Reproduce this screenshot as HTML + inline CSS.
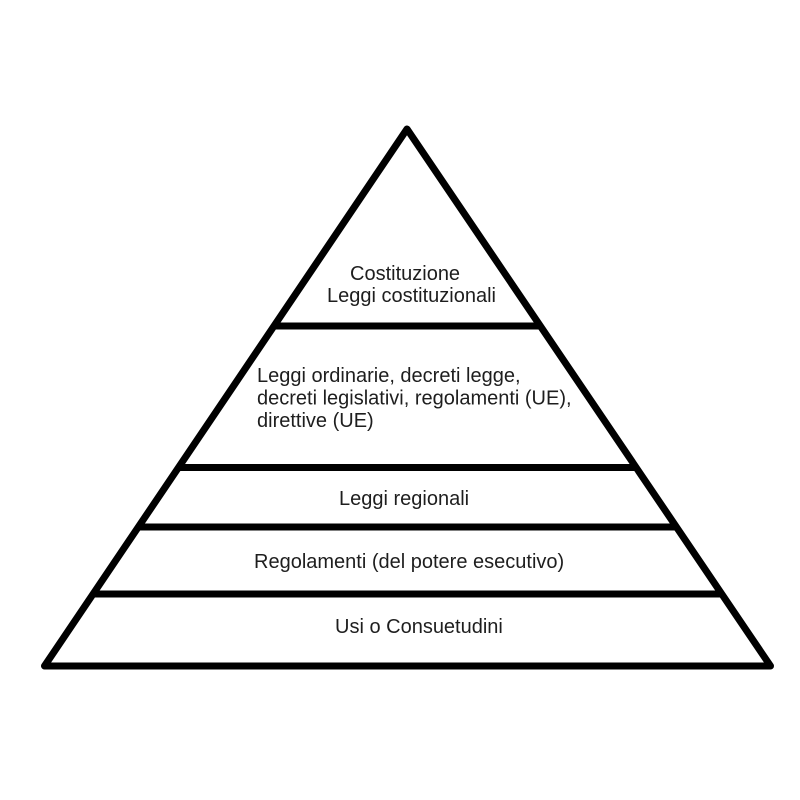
<!DOCTYPE html>
<html>
<head>
<meta charset="utf-8">
<style>
  html, body { margin: 0; padding: 0; background: #ffffff; }
  svg { display: block; }
  text { font-family: "Liberation Sans", Arial, sans-serif; font-size: 20px; fill: #1e1e1e; }
</style>
</head>
<body>
<svg width="800" height="800" viewBox="0 0 800 800" xmlns="http://www.w3.org/2000/svg">
  <rect x="0" y="0" width="800" height="800" fill="#ffffff"/>
  <!-- horizontal dividers -->
  <g stroke="#000" stroke-width="7" stroke-linecap="butt">
    <line x1="274" y1="326" x2="540" y2="326"/>
    <line x1="178.5" y1="467.5" x2="635.5" y2="467.5"/>
    <line x1="138.3" y1="527" x2="675.7" y2="527"/>
    <line x1="93.1" y1="594" x2="720.9" y2="594"/>
  </g>
  <!-- triangle -->
  <polygon points="407,129 44.5,666 770.5,666" fill="none" stroke="#000" stroke-width="7" stroke-linejoin="round"/>

  <text x="350" y="280">Costituzione</text>
  <text x="327" y="302">Leggi costituzionali</text>

  <text x="257" y="382">Leggi ordinarie, decreti legge,</text>
  <text x="257" y="404.5">decreti legislativi, regolamenti (UE),</text>
  <text x="257" y="427">direttive (UE)</text>

  <text x="339" y="505">Leggi regionali</text>
  <text x="254" y="568">Regolamenti (del potere esecutivo)</text>
  <text x="335" y="633">Usi o Consuetudini</text>
</svg>
</body>
</html>
